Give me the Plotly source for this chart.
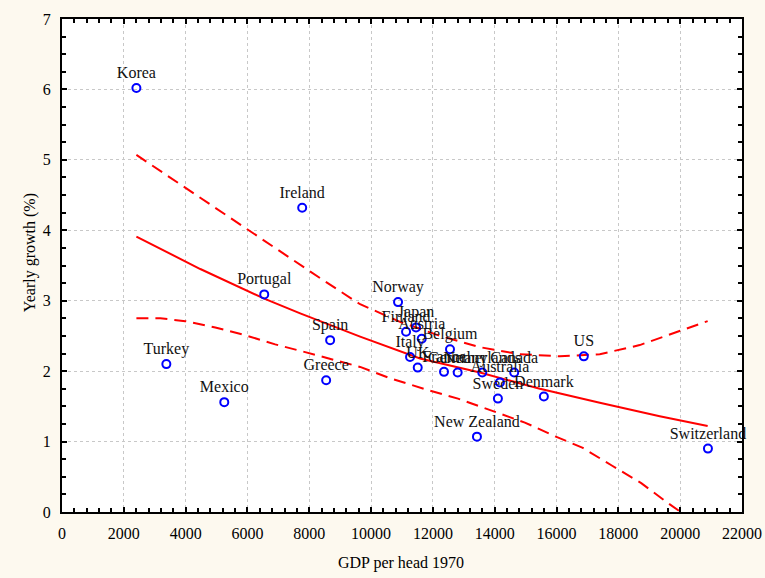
import plotly.graph_objects as go

countries = ["Korea", "Turkey", "Mexico", "Portugal", "Ireland", "Greece", "Spain",
             "Norway", "Finland", "Japan", "Austria", "Italy", "UK", "Belgium",
             "France", "Germany", "Netherlands", "Canada", "Australia", "Sweden",
             "Denmark", "New Zealand", "US", "Switzerland"]
gdp1970 = [2407, 3376, 5250, 6543, 7771, 8546, 8675,
           10872, 11131, 11454, 11638, 11260, 11509, 12553,
           12359, 12801, 13597, 14630, 14168, 14103,
           15590, 13425, 16882, 20898]
growth = [6.02, 2.10, 1.56, 3.09, 4.32, 1.87, 2.44,
          2.98, 2.56, 2.62, 2.46, 2.20, 2.05, 2.31,
          1.99, 1.98, 1.98, 1.98, 1.84, 1.61,
          1.64, 1.07, 2.21, 0.90]

fit_x = [2407, 4475, 6543, 7706, 9645, 11583, 13522, 15461, 17399, 19338, 20889]
fit_y = [3.91, 3.45, 3.03, 2.82, 2.49, 2.18, 1.98, 1.75, 1.55, 1.36, 1.22]

upper_x = [2407, 4475, 5767, 7060, 8352, 9645, 10937, 12230, 13522, 14815,
           16107, 17399, 18692, 19661, 20889]
upper_y = [5.07, 4.46, 4.08, 3.69, 3.32, 2.95, 2.70, 2.50, 2.34, 2.24,
           2.21, 2.24, 2.37, 2.52, 2.71]

lower_x = [2407, 3182, 3990, 4960, 5929, 6898, 7868, 8837, 9645, 10614, 11777,
           12811, 13845, 14976, 15977, 16850, 17787, 18740, 19596, 20000, 20889]
lower_y = [2.75, 2.75, 2.71, 2.62, 2.51, 2.38, 2.27, 2.16, 2.06, 1.90, 1.74,
           1.61, 1.45, 1.27, 1.07, 0.91, 0.66, 0.41, 0.13, 0.0, -0.27]

x_ticks = list(range(0, 22001, 2000))
y_ticks = [0, 1, 2, 3, 4, 5, 6, 7]

FONT = "Liberation Serif, Times New Roman, serif"
RED = "#ff0000"

fig = go.Figure()
fig.add_trace(go.Scatter(x=upper_x, y=upper_y, mode="lines",
                         line=dict(color=RED, width=2, dash="12px,7px"),
                         hoverinfo="skip", showlegend=False))
fig.add_trace(go.Scatter(x=lower_x, y=lower_y, mode="lines",
                         line=dict(color=RED, width=2, dash="12px,7px"),
                         hoverinfo="skip", showlegend=False))
fig.add_trace(go.Scatter(x=fit_x, y=fit_y, mode="lines",
                         line=dict(color=RED, width=2),
                         hoverinfo="skip", showlegend=False))
fig.add_trace(go.Scatter(x=gdp1970, y=growth, mode="markers+text",
                         text=countries, textposition="top center",
                         textfont=dict(family=FONT, size=16, color="#111111"),
                         marker=dict(symbol="circle-open", size=8, color="#0000ff",
                                     line=dict(width=2, color="#0000ff")),
                         cliponaxis=False, showlegend=False))

axis_common = dict(
    showline=True, linecolor="black", linewidth=2, mirror="allticks",
    ticks="inside", ticklen=5, tickwidth=2, tickcolor="black",
    showgrid=True, gridcolor="#c8c8c8", griddash="dot", gridwidth=1,
    zeroline=False, automargin=False,
    tickfont=dict(family=FONT, size=16, color="black"),
)

fig.update_xaxes(
    range=[0, 22000], tickvals=x_ticks, ticktext=[str(v) for v in x_ticks],
    minor=dict(dtick=400, ticks="inside", ticklen=4, tickwidth=2, tickcolor="black", showgrid=False),
    ticklabelstandoff=6,
    **axis_common,
)
fig.update_yaxes(
    range=[0, 7], tickvals=y_ticks, ticktext=[str(v) for v in y_ticks],
    minor=dict(dtick=0.25, ticks="inside", ticklen=4, tickwidth=2, tickcolor="black", showgrid=False),
    ticklabelstandoff=6,
    **axis_common,
)

fig.update_layout(
    width=765, height=578,
    margin=dict(l=62, r=23, t=19, b=66),
    paper_bgcolor="#fdf9ef", plot_bgcolor="white",
    font=dict(family=FONT, size=16, color="black"),
    showlegend=False,
    annotations=[
        dict(text="GDP per head 1970", xref="paper", yref="paper",
             x=0.498, y=-0.103, xanchor="center", yanchor="middle",
             showarrow=False, font=dict(family=FONT, size=16, color="black")),
        dict(text="Yearly growth (%)", xref="paper", yref="paper",
             x=-0.047, y=0.525, xanchor="center", yanchor="middle", textangle=-90,
             showarrow=False, font=dict(family=FONT, size=16, color="black")),
    ],
)

fig.write_html("out.html")
